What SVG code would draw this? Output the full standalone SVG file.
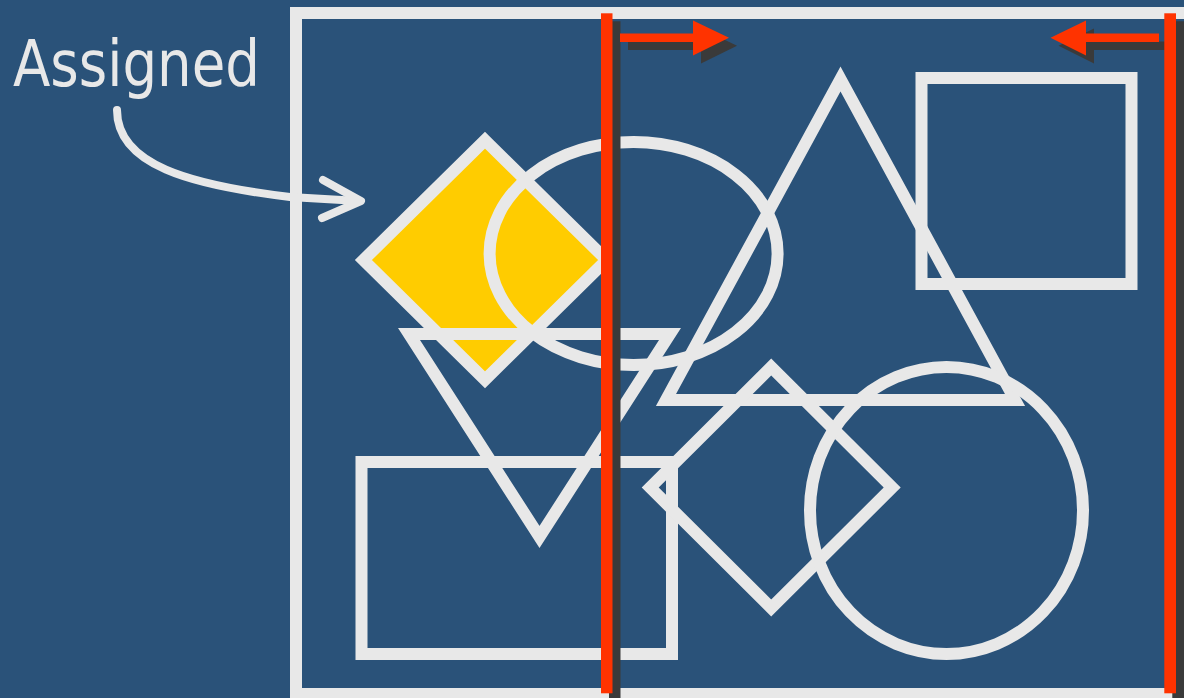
<svg xmlns="http://www.w3.org/2000/svg" width="1184" height="698" viewBox="0 0 1184 698">
  <defs>
    <style>
      .shape { fill: none; stroke: #e8e8e8; stroke-width: 12; stroke-linejoin: miter; stroke-miterlimit: 10; }
      .red { fill: #ff3300; }
      .shadow { fill: #3a3a3a; }
      .label { font-family: "DejaVu Sans", "Liberation Sans", sans-serif; font-size: 64px; fill: #e8e8e8; }
      .conn { fill: none; stroke: #e8e8e8; stroke-width: 8; stroke-linecap: round; stroke-linejoin: round; }
    </style>
    <g id="sweepRight">
      <rect x="620" y="33.5" width="74" height="8.5"/>
      <polygon points="693,20.5 729,37.7 693,55.5"/>
    </g>
    <g id="sweepLeft">
      <rect x="1085" y="33.5" width="74" height="8.5"/>
      <polygon points="1086,20.5 1050.5,37.7 1086,55.5"/>
    </g>
  </defs>

  <rect x="0" y="0" width="1184" height="698" fill="#2a5279"/>

  <g id="frame">
    <rect class="shape" x="296" y="13" width="910" height="681"/>
  </g>

  <g id="label-assigned">
    <text class="label" x="13" y="86" textLength="247" lengthAdjust="spacingAndGlyphs">Assigned</text>
  </g>

  <g id="yellow-diamond">
    <polygon class="shape" fill="#ffcc00" style="fill:#ffcc00" points="485,140.2 606.6,260 485,379.8 363.4,260"/>
  </g>

  <g id="ellipse">
    <ellipse class="shape" cx="633.6" cy="253.5" rx="144" ry="111.5"/>
  </g>

  <g id="down-triangle">
    <polygon class="shape" points="409,334 670,334 539.5,537"/>
  </g>

  <g id="up-triangle">
    <polygon class="shape" points="840.5,79 1015,400 666,400"/>
  </g>

  <g id="square">
    <rect class="shape" x="921.5" y="78" width="210" height="206"/>
  </g>

  <g id="bottom-rect">
    <rect class="shape" x="361.5" y="462" width="310.5" height="192"/>
  </g>

  <g id="middle-diamond">
    <polygon class="shape" points="771.2,367 892.2,487.5 771.2,608 650.2,487.5"/>
  </g>

  <g id="circle">
    <ellipse class="shape" cx="946.5" cy="510.5" rx="136.5" ry="143.5"/>
  </g>

  <g id="connectors">
    <path class="conn" d="M117,110 C117,165 190,185 290,197 L359,201"/>
    <path class="conn" d="M323,180 L361,201 L322,218"/>
  </g>

  <g id="sweep-left-boundary">
    <rect class="shadow" x="609" y="21.3" width="11.5" height="680"/>
    <use href="#sweepRight" class="shadow" transform="translate(8,8)"/>
    <rect class="red" x="601" y="13.3" width="11.5" height="680"/>
    <use href="#sweepRight" class="red"/>
  </g>

  <g id="sweep-right-boundary">
    <use href="#sweepLeft" class="shadow" transform="translate(8,8)"/>
    <rect class="shadow" x="1172.3" y="21.3" width="11.7" height="680"/>
    <rect class="red" x="1164.3" y="13.3" width="11.7" height="680"/>
    <use href="#sweepLeft" class="red"/>
  </g>
</svg>
